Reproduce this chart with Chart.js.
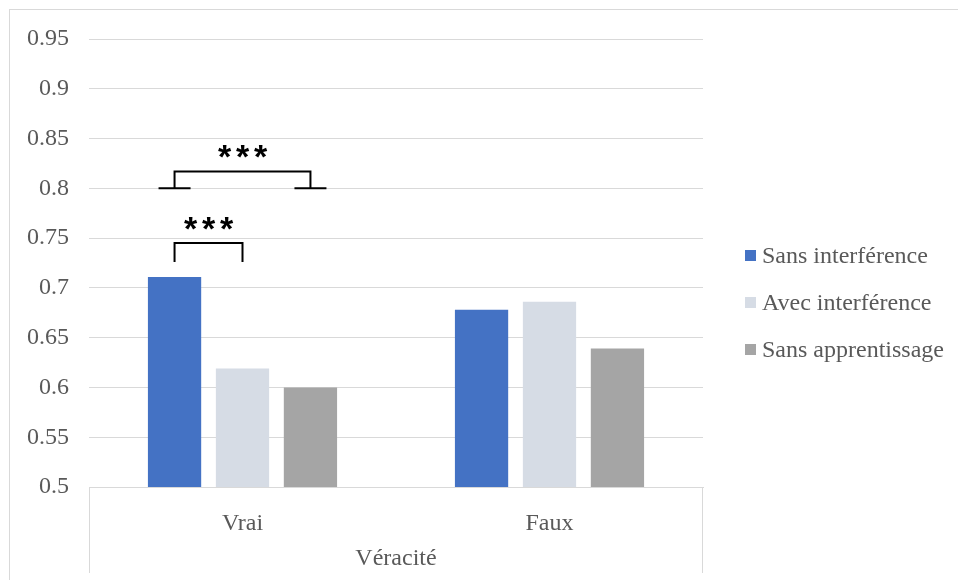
<!DOCTYPE html>
<html>
<head>
<meta charset="utf-8">
<script src="https://cdn.jsdelivr.net/npm/chart.js@4"></script>
<style>
  html, body { margin: 0; padding: 0; background: #fff; }
</style>
</head>
<body>
<canvas id="veraciteChart" width="958" height="580"></canvas>
<script>
const categories = ['Vrai', 'Faux'];
const seriesNames = ['Sans interférence', 'Avec interférence', 'Sans apprentissage'];
const sansInterference = [0.711, 0.678];
const avecInterference = [0.619, 0.686];
const sansApprentissage = [0.600, 0.639];
const seriesColors = ['#4472C4', '#D6DCE5', '#A5A5A5'];
const yTicks = [0.5, 0.55, 0.6, 0.65, 0.7, 0.75, 0.8, 0.85, 0.9, 0.95];

// significance brackets, between bars of the first category (dataset indices)
const brackets = [
  {from: 0, to: 2, top: 0.817, base: 0.800, feet: true, label: '***', labelAt: 0.837},
  {from: 0, to: 1, top: 0.745, base: 0.726, feet: false, label: '***', labelAt: 0.765}
];

const serif = "'Liberation Serif', 'Times New Roman', serif";
const textColor = '#595959';
const lineColor = '#D9D9D9';

function drawStars(ctx, text, cx, cy) {
  ctx.save();
  ctx.font = "bold 34px 'Liberation Sans', Arial, sans-serif";
  ctx.fillStyle = '#000';
  ctx.textAlign = 'center';
  ctx.textBaseline = 'alphabetic';
  const m = ctx.measureText('*');
  const baseY = cy + (m.actualBoundingBoxAscent - m.actualBoundingBoxDescent) / 2;
  const gap = 18;
  const n = text.length;
  for (let i = 0; i < n; i++) {
    ctx.fillText('*', cx + (i - (n - 1) / 2) * gap, baseY);
  }
  ctx.restore();
}

const decorPlugin = {
  id: 'decor',
  beforeDraw(chart) {
    const ctx = chart.ctx;
    ctx.save();
    ctx.strokeStyle = lineColor;
    ctx.lineWidth = 1;
    ctx.strokeRect(9.5, 9.5, 2000, 2000);
    ctx.restore();
  },
  afterDraw(chart) {
    const ctx = chart.ctx;
    const x = chart.scales.x;
    const y = chart.scales.y;

    // category box lines below the axis
    ctx.save();
    ctx.strokeStyle = lineColor;
    ctx.lineWidth = 1;
    ctx.beginPath();
    ctx.moveTo(x.left + 0.5, x.top);
    ctx.lineTo(x.left + 0.5, 573);
    ctx.moveTo(x.right - 0.5, x.top);
    ctx.lineTo(x.right - 0.5, 573);
    ctx.stroke();
    ctx.restore();

    // brackets
    brackets.forEach(b => {
      const x1 = chart.getDatasetMeta(b.from).data[0].x;
      const x2 = chart.getDatasetMeta(b.to).data[0].x;
      const yTop = y.getPixelForValue(b.top);
      const yBase = y.getPixelForValue(b.base);
      ctx.save();
      ctx.strokeStyle = '#000';
      ctx.lineWidth = 2;
      ctx.beginPath();
      ctx.moveTo(x1, yBase);
      ctx.lineTo(x1, yTop);
      ctx.lineTo(x2, yTop);
      ctx.lineTo(x2, yBase);
      if (b.feet) {
        ctx.moveTo(x1 - 16, yBase);
        ctx.lineTo(x1 + 16, yBase);
        ctx.moveTo(x2 - 16, yBase);
        ctx.lineTo(x2 + 16, yBase);
      }
      ctx.stroke();
      ctx.restore();
      drawStars(ctx, b.label, (x1 + x2) / 2, y.getPixelForValue(b.labelAt));
    });

    // legend
    ctx.save();
    ctx.font = '24px ' + serif;
    ctx.textAlign = 'left';
    ctx.textBaseline = 'alphabetic';
    chart.data.datasets.forEach((ds, i) => {
      const rowY = 256 + i * 47;
      ctx.fillStyle = ds.backgroundColor;
      ctx.fillRect(745, rowY - 6, 11, 11);
      ctx.fillStyle = textColor;
      ctx.fillText(ds.label, 762, rowY + 7);
    });
    ctx.restore();
  }
};

const seriesValues = [sansInterference, avecInterference, sansApprentissage];

new Chart(document.getElementById('veraciteChart').getContext('2d'), {
  type: 'bar',
  data: {
    labels: categories,
    datasets: seriesNames.map((name, i) => ({
      label: name,
      data: seriesValues[i],
      backgroundColor: seriesColors[i],
      borderWidth: 0,
      categoryPercentage: 0.664,
      barPercentage: 0.784
    }))
  },
  options: {
    responsive: false,
    animation: false,
    layout: {padding: {top: 39, right: 255, bottom: 0, left: 0}},
    plugins: {legend: {display: false}, tooltip: {enabled: false}},
    scales: {
      x: {
        grid: {display: false},
        border: {display: true, color: lineColor, width: 1},
        ticks: {font: {family: serif, size: 24}, color: textColor, padding: 14},
        title: {display: true, text: 'Véracité', font: {family: serif, size: 24}, color: textColor, padding: {top: 0, bottom: 7}},
        afterFit: s => { s.height = 93; }
      },
      y: {
        min: 0.5,
        max: 0.95,
        afterBuildTicks: s => { s.ticks = yTicks.map(v => ({value: v})); },
        grid: {color: lineColor, drawTicks: false},
        border: {display: false},
        ticks: {font: {family: serif, size: 24}, color: textColor, padding: 20, callback: v => String(Number(v.toFixed(2)))},
        afterFit: s => { s.width = 89; }
      }
    }
  },
  plugins: [decorPlugin]
});
</script>
</body>
</html>
